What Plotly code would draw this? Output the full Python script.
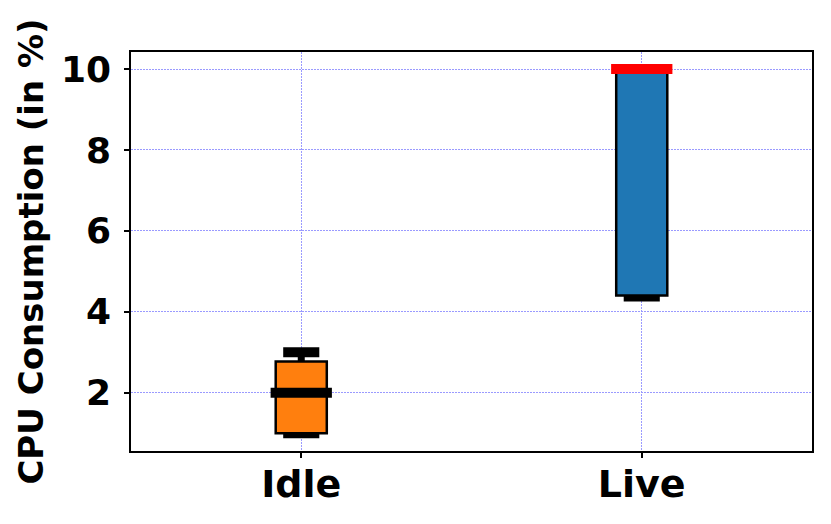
import plotly.graph_objects as go

# CPU consumption box stats
labels = ["Idle", "Live"]
positions = [1, 2]
q1 = [1.0, 4.4]
median = [2.0, 10.0]
q3 = [2.77, 10.0]
lower_whisker = [0.95, 4.33]
upper_whisker = [3.0, 10.0]

box_colors = ["#ff7f0e", "#1f77b4"]
median_colors = ["black", "red"]

box_w = 0.15
cap_half = 0.053
med_half = 0.09

fig = go.Figure()

# boxes
for i in range(len(labels)):
    fig.add_trace(go.Box(
        x=[positions[i]], q1=[q1[i]], median=[median[i]], q3=[q3[i]],
        lowerfence=[lower_whisker[i]], upperfence=[upper_whisker[i]],
        width=box_w, whiskerwidth=0,
        fillcolor=box_colors[i], line=dict(color="black", width=2.5),
        showlegend=False, hoverinfo="skip"
    ))

# thick whiskers and caps
for i in range(len(labels)):
    p = positions[i]
    fig.add_trace(go.Scatter(
        x=[p, p], y=[q3[i], upper_whisker[i]], mode="lines",
        line=dict(color="black", width=7), showlegend=False, hoverinfo="skip"))
    fig.add_trace(go.Scatter(
        x=[p - cap_half, p + cap_half], y=[upper_whisker[i], upper_whisker[i]],
        mode="lines", line=dict(color="black", width=10),
        showlegend=False, hoverinfo="skip"))
    fig.add_trace(go.Scatter(
        x=[p - cap_half, p + cap_half], y=[lower_whisker[i], lower_whisker[i]],
        mode="lines", line=dict(color="black", width=6),
        showlegend=False, hoverinfo="skip"))

# medians
for i in range(len(labels)):
    p = positions[i]
    fig.add_trace(go.Scatter(
        x=[p - med_half, p + med_half], y=[median[i], median[i]],
        mode="lines", line=dict(color=median_colors[i], width=10),
        showlegend=False, hoverinfo="skip"))

grid = dict(showgrid=True, gridcolor="#9a9aff", gridwidth=1, griddash="2px,1px")

# page body adds ~8px offset, so the figure is a bit smaller than the window
fig.update_layout(
    width=823, height=516,
    margin=dict(l=123, r=19, t=44, b=73),
    plot_bgcolor="white", paper_bgcolor="white",
    font=dict(family="DejaVu Sans", color="black"),
    xaxis=dict(
        range=[0.5, 2.5], tickvals=positions, ticktext=labels,
        tickfont=dict(size=38, weight="bold"),
        ticks="outside", ticklen=5, tickwidth=1.5, tickcolor="black",
        ticklabelstandoff=-6,
        showline=True, linecolor="black", linewidth=1.5, mirror=True,
        zeroline=False, automargin=False, **grid
    ),
    yaxis=dict(
        range=[0.56, 10.42], tickvals=[2, 4, 6, 8, 10],
        tickfont=dict(size=36, weight="bold"),
        ticks="outside", ticklen=5, tickwidth=1.5, tickcolor="black",
        ticklabelstandoff=6,
        showline=True, linecolor="black", linewidth=1.5, mirror=True,
        zeroline=False, automargin=False,
        title=dict(text="CPU Consumption (in %)", font=dict(size=34, weight="bold"), standoff=7),
        **grid
    ),
)

fig.write_html("out.html")
